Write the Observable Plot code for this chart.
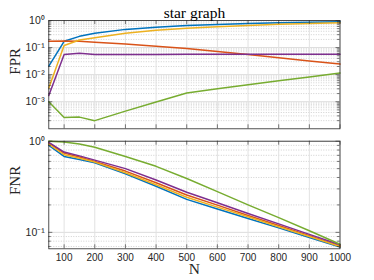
<!DOCTYPE html>
<html>
<head>
<meta charset="utf-8">
<script src="https://cdn.jsdelivr.net/npm/d3@7"></script>
<script src="https://cdn.jsdelivr.net/npm/@observablehq/plot@0.6"></script>
<style>
  html, body { margin: 0; padding: 0; background: #fff; }
  #chart svg { display: block; }
</style>
</head>
<body>
<div id="chart"></div>
<script>
const N = [50, 100, 150, 200, 300, 400, 500, 600, 700, 800, 900, 1000];
const seriesNames = ["s1", "s2", "s3", "s4", "s5"];
const colors = ["#0072BD", "#D95319", "#EDB120", "#7E2F8E", "#77AC30"];

const fprBlue   = [0.0205, 0.17, 0.26, 0.34, 0.47, 0.56, 0.65, 0.71, 0.77, 0.82, 0.86, 0.89];
const fprOrange = [0.17, 0.175, 0.17, 0.158, 0.135, 0.113, 0.093, 0.071, 0.055, 0.042, 0.032, 0.0245];
const fprYellow = [0.0032, 0.12, 0.19, 0.23, 0.34, 0.44, 0.52, 0.59, 0.66, 0.72, 0.77, 0.82];
const fprPurple = [0.0017, 0.056, 0.062, 0.056, 0.056, 0.056, 0.057, 0.057, 0.057, 0.057, 0.057, 0.057];
const fprGreen  = [0.001, 0.00026, 0.00027, 0.0002, 0.00045, 0.00098, 0.0021, 0.003, 0.0042, 0.0059, 0.0082, 0.0115];

const fnrBlue   = [0.90, 0.68, 0.63, 0.58, 0.44, 0.32, 0.23, 0.18, 0.142, 0.112, 0.088, 0.069];
const fnrOrange = [0.95, 0.74, 0.67, 0.60, 0.47, 0.35, 0.257, 0.199, 0.153, 0.119, 0.092, 0.071];
const fnrYellow = [0.93, 0.71, 0.65, 0.59, 0.45, 0.333, 0.243, 0.189, 0.148, 0.115, 0.090, 0.070];
const fnrPurple = [0.97, 0.76, 0.69, 0.62, 0.50, 0.375, 0.275, 0.211, 0.161, 0.124, 0.095, 0.073];
const fnrGreen  = [1.0, 0.98, 0.93, 0.86, 0.68, 0.53, 0.39, 0.28, 0.20, 0.145, 0.104, 0.074];

const xTicks = [100, 200, 300, 400, 500, 600, 700, 800, 900, 1000];
const fprMajor = [1, 0.1, 0.01, 0.001];
const fprMinorBase = [0.0001, 0.001, 0.01, 0.1];
const fnrMajor = [1, 0.1];
const fnrMinor = [0.07, 0.08, 0.09, 0.2, 0.3, 0.4, 0.5, 0.6, 0.7, 0.8, 0.9];
const minorMult = [2, 3, 4, 5, 6, 7, 8, 9];
const fprMinor = fprMinorBase.flatMap(b => minorMult.map(m => +(b * m).toPrecision(3)));

const fprSeries = [fprBlue, fprOrange, fprYellow, fprPurple, fprGreen];
const fnrSeries = [fnrBlue, fnrOrange, fnrYellow, fnrPurple, fnrGreen];

function table(series) {
  return series.flatMap((vals, i) => vals.map((v, j) => ({n: N[j], v, s: seriesNames[i]})));
}

const sup = {"0":"⁰","1":"¹","2":"²","3":"³","4":"⁴","5":"⁵","6":"⁶","7":"⁷","8":"⁸","9":"⁹","-":"⁻"};
const fmtLog = d => "10" + String(Math.round(Math.log10(d))).split("").map(c => sup[c]).join("");

const W = 374, ML = 48.3, MR = 34.5;
const PW = W - ML - MR;
const axisColor = "#262626";
const sans = "Liberation Sans, Arial, sans-serif";
const serif = "Liberation Serif, Times New Roman, serif";

function panel({series, domain, major, minor, height, mt, mb, label, title, xAxis}) {
  const PH = height - mt - mb;
  const marks = [
    Plot.gridY(minor, {stroke: "#b0b0b0", strokeOpacity: 0.6, strokeDasharray: "1,1.5"}),
    Plot.gridY(major, {stroke: "#dcdcdc", strokeOpacity: 1}),
    Plot.gridX(xTicks, {stroke: "#e2e2e2", strokeOpacity: 1}),
    Plot.line(table(series), {x: "n", y: "v", stroke: "s", strokeWidth: 1.5}),
    Plot.tickY(major, {y: d => d, stroke: axisColor, strokeWidth: 0.6, insetRight: PW - 4}),
    Plot.tickY(major, {y: d => d, stroke: axisColor, strokeWidth: 0.6, insetLeft: PW - 4}),
    Plot.tickY(minor, {y: d => d, stroke: axisColor, strokeWidth: 0.6, insetRight: PW - 2.5}),
    Plot.tickY(minor, {y: d => d, stroke: axisColor, strokeWidth: 0.6, insetLeft: PW - 2.5}),
    Plot.tickX(xTicks, {x: d => d, stroke: axisColor, strokeWidth: 0.6, insetTop: PH - 4}),
    Plot.tickX(xTicks, {x: d => d, stroke: axisColor, strokeWidth: 0.6, insetBottom: PH - 4}),
    Plot.frame({stroke: axisColor, strokeWidth: 0.8}),
    Plot.axisY(major, {tickSize: 0, tickPadding: 4, tickFormat: fmtLog, fontSize: 10.5, fontFamily: sans, color: axisColor, label: null}),
    Plot.text([label], {frameAnchor: "left", dx: -34, rotate: -90, fontSize: 15, fontFamily: serif, fill: axisColor})
  ];
  if (xAxis) {
    marks.push(Plot.axisX(xTicks, {tickSize: 0, tickPadding: 5, tickFormat: d => String(d), fontSize: 10, fontFamily: sans, color: axisColor, label: null}));
    marks.push(Plot.text(["N"], {frameAnchor: "bottom", dy: 25.5, fontSize: 15.5, fontFamily: serif, fill: axisColor}));
  } else {
    marks.push(Plot.axisX({ticks: [], tickSize: 0, label: null}));
  }
  if (title) {
    marks.push(Plot.text([title], {frameAnchor: "top", dy: -2.5, lineAnchor: "bottom", fontSize: 15.5, fontFamily: serif, fill: "#000"}));
  }
  return Plot.plot({
    width: W, height,
    marginLeft: ML, marginRight: MR, marginTop: mt, marginBottom: mb,
    style: {background: "white", overflow: "visible"},
    x: {domain: [50, 1000]},
    y: {type: "log", domain},
    color: {domain: seriesNames, range: colors},
    marks
  });
}

const el = document.getElementById("chart");
el.appendChild(panel({series: fprSeries, domain: [1e-4, 1], major: fprMajor, minor: fprMinor,
  height: 135, mt: 20, mb: 6.7, label: "FPR", title: "star graph", xAxis: false}));
el.appendChild(panel({series: fnrSeries, domain: [0.066, 1], major: fnrMajor, minor: fnrMinor,
  height: 145, mt: 5.7, mb: 31.7, label: "FNR", title: null, xAxis: true}));
</script>
</body>
</html>
